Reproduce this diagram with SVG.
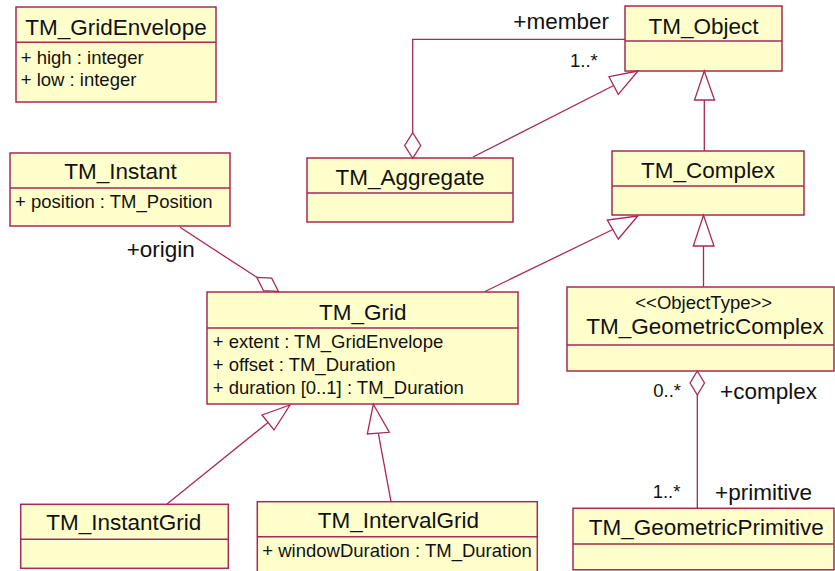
<svg xmlns="http://www.w3.org/2000/svg" width="835" height="571" viewBox="0 0 835 571">
<style>
.box{fill:#FFFFCC;stroke:#A8285A;stroke-width:1.5}
.div{stroke:#A8285A;stroke-width:1.5}
.t{font-family:"Liberation Sans",Arial,sans-serif;font-size:22.5px;fill:#111;text-anchor:middle}
.a{font-family:"Liberation Sans",Arial,sans-serif;font-size:18.5px;fill:#111}
.st{font-family:"Liberation Sans",Arial,sans-serif;font-size:18.5px;fill:#111;text-anchor:middle}
.r{font-family:"Liberation Sans",Arial,sans-serif;font-size:22.5px;fill:#111}
.m{font-family:"Liberation Sans",Arial,sans-serif;font-size:18.5px;fill:#111}
.ln{fill:none;stroke:#A8285A;stroke-width:1.3}
.hd{fill:#fff;stroke:#A8285A;stroke-width:1.3}
</style>
<rect width="835" height="571" fill="#fff"/>
<g id="TM_GridEnvelope">
<rect class="box" x="16" y="7" width="200" height="95"/>
<line class="div" x1="16" y1="42.3" x2="216" y2="42.3"/>
<text class="t" x="116" y="35">TM_GridEnvelope</text>
<text class="a" x="20.7" y="63.5">+ high : integer</text>
<text class="a" x="20.7" y="86">+ low : integer</text>
</g>
<g id="TM_Object">
<rect class="box" x="625" y="6" width="157" height="65"/>
<line class="div" x1="625" y1="41" x2="782" y2="41"/>
<text class="t" x="703.5" y="34.3">TM_Object</text>
</g>
<g id="TM_Instant">
<rect class="box" x="10" y="153" width="220" height="73"/>
<line class="div" x1="10" y1="188" x2="230" y2="188"/>
<text class="t" x="120.5" y="179.3">TM_Instant</text>
<text class="a" x="15" y="208.3">+ position : TM_Position</text>
</g>
<g id="TM_Aggregate">
<rect class="box" x="307" y="158" width="206" height="64"/>
<line class="div" x1="307" y1="193" x2="513" y2="193"/>
<text class="t" x="410" y="185">TM_Aggregate</text>
</g>
<g id="TM_Complex">
<rect class="box" x="612" y="151" width="192" height="64"/>
<line class="div" x1="612" y1="186" x2="804" y2="186"/>
<text class="t" x="708" y="177.7">TM_Complex</text>
</g>
<g id="TM_Grid">
<rect class="box" x="207" y="292" width="311" height="112"/>
<line class="div" x1="207" y1="328" x2="518" y2="328"/>
<text class="t" x="362.7" y="320">TM_Grid</text>
<text class="a" x="212.7" y="347.7">+ extent : TM_GridEnvelope</text>
<text class="a" x="212.7" y="371">+ offset : TM_Duration</text>
<text class="a" x="212.7" y="394">+ duration [0..1] : TM_Duration</text>
</g>
<g id="TM_GeometricComplex">
<rect class="box" x="567" y="287" width="267" height="84"/>
<line class="div" x1="567" y1="345" x2="834" y2="345"/>
<text class="st" x="703.7" y="309.3">&lt;&lt;ObjectType&gt;&gt;</text>
<text class="t" x="705" y="334">TM_GeometricComplex</text>
</g>
<g id="TM_GeometricPrimitive">
<rect class="box" x="573" y="508.3" width="261" height="61.5"/>
<line class="div" x1="573" y1="544" x2="834" y2="544"/>
<text class="t" x="706.3" y="535">TM_GeometricPrimitive</text>
</g>
<g id="TM_InstantGrid">
<rect class="box" x="20.7" y="504.3" width="207.6" height="64"/>
<line class="div" x1="20.7" y1="539.3" x2="228.3" y2="539.3"/>
<text class="t" x="123.7" y="530">TM_InstantGrid</text>
</g>
<g id="TM_IntervalGrid">
<rect class="box" x="257.3" y="501.7" width="280" height="80"/>
<line class="div" x1="257.3" y1="536.7" x2="537.3" y2="536.7"/>
<text class="t" x="398.3" y="528.3">TM_IntervalGrid</text>
<text class="a" x="262.3" y="556.7">+ windowDuration : TM_Duration</text>
</g>
<g id="connectors">
<polyline class="ln" points="625,39.3 412.7,39.3 412.7,132.7"/>
<polygon class="hd" points="412.7,158.3 420.7,145.5 412.7,132.7 404.7,145.5"/>
<line class="ln" x1="473" y1="157" x2="613.7" y2="85.5"/>
<polygon class="hd" points="638,71 609,76.7 618.3,94.3"/>
<line class="ln" x1="704.3" y1="151" x2="704.3" y2="100"/>
<polygon class="hd" points="704.3,71 694.5,100 714.5,100"/>
<line class="ln" x1="485" y1="291.5" x2="612.8" y2="229.5"/>
<polygon class="hd" points="637.7,216 607.3,220 618.3,239"/>
<line class="ln" x1="703.5" y1="286.7" x2="703.5" y2="246"/>
<polygon class="hd" points="703.5,215.3 693.3,246 714,246"/>
<line class="ln" x1="180" y1="227.3" x2="256.7" y2="277.3"/>
<polygon class="hd" points="256.7,277.3 271.7,278.1 278.5,291.5 263.5,290.7"/>
<line class="ln" x1="268" y1="422.5" x2="166.7" y2="504.3"/>
<polygon class="hd" points="290,405 262,415 274,430"/>
<line class="ln" x1="378.3" y1="433.2" x2="391" y2="501.7"/>
<polygon class="hd" points="373.3,404.3 367.3,434 389.3,432.3"/>
<line class="ln" x1="697.3" y1="395" x2="697.3" y2="508.3"/>
<polygon class="hd" points="697.3,371 704.5,383 697.3,395 690.1,383"/>
<text class="r" x="513.3" y="29.3">+member</text>
<text class="m" x="570" y="66.7">1..*</text>
<text class="r" x="126.7" y="257.3">+origin</text>
<text class="m" x="653.3" y="396.7">0..*</text>
<text class="r" x="720" y="399.3">+complex</text>
<text class="m" x="652.7" y="498.3">1..*</text>
<text class="r" x="715" y="500">+primitive</text>
</g>
</svg>
